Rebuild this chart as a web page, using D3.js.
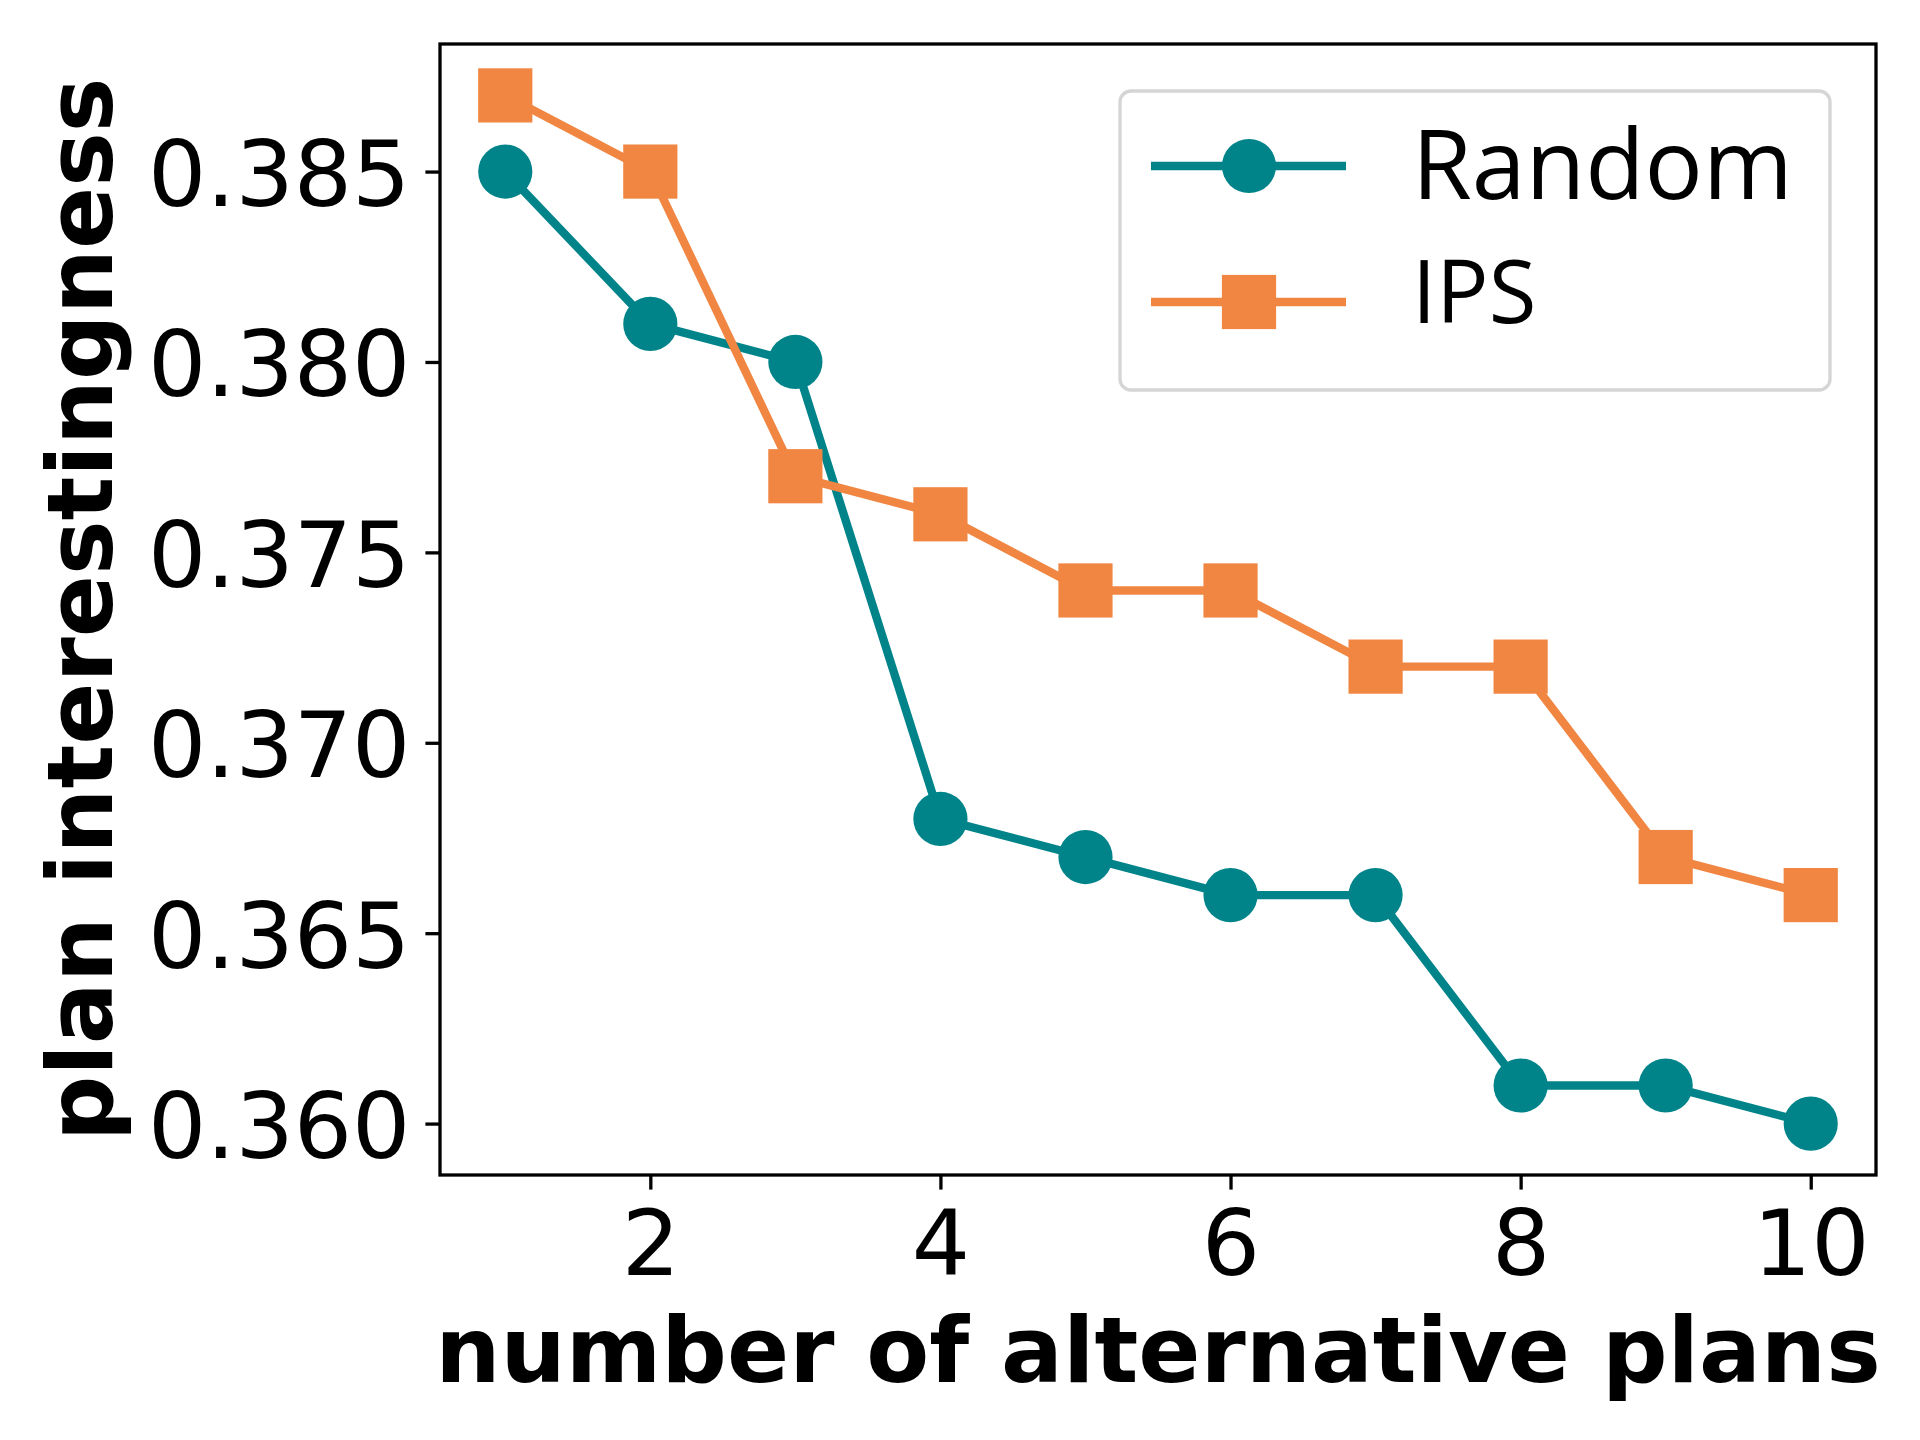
<!DOCTYPE html>
<html>
<head>
<meta charset="utf-8">
<script src="https://cdn.jsdelivr.net/npm/d3@7"></script>
<style>
  body { margin: 0; background: #fff; }
  text { font-family: "DejaVu Sans", sans-serif; }
</style>
</head>
<body>
<svg width="1920" height="1440"></svg>
<script>
// Data
let plans = [1, 2, 3, 4, 5, 6, 7, 8, 9, 10];
let randomVals = [0.385, 0.381, 0.380, 0.368, 0.367, 0.366, 0.366, 0.361, 0.361, 0.360];
let ipsVals = [0.387, 0.385, 0.377, 0.376, 0.374, 0.374, 0.372, 0.372, 0.367, 0.366];
let xTicks = [2, 4, 6, 8, 10];
let yTicks = [0.360, 0.365, 0.370, 0.375, 0.380, 0.385];

let series = [
    { name: "Random", values: randomVals, color: "#00848a", marker: "circle", labelSize: 97, labelBase: 199 },
    { name: "IPS", values: ipsVals, color: "#f18642", marker: "square", labelSize: 87, labelBase: 323 }
];

// The svg
let svg = d3.select("svg");
svg.append("rect").attr("width", 1920).attr("height", 1440).attr("fill", "#fff");

let plotLeft = 440, plotRight = 1876, plotTop = 44, plotBottom = 1175;
let fontSize = 91.7, lineW = 8.33, markerSize = 54.2, tickLen = 14.6, spineW = 3.3;

// Scales with matplotlib-like 5% margins
let xMin = d3.min(plans), xMax = d3.max(plans);
let allVals = randomVals.concat(ipsVals);
let yMin = d3.min(allVals), yMax = d3.max(allVals);
let xPad = (xMax - xMin) * 0.05, yPad = (yMax - yMin) * 0.05;

let x = d3.scaleLinear().domain([xMin - xPad, xMax + xPad]).range([plotLeft, plotRight]);
let y = d3.scaleLinear().domain([yMin - yPad, yMax + yPad]).range([plotBottom, plotTop]);

// Axes
let xAxis = svg.append("g")
    .attr("transform", "translate(0," + plotBottom + ")")
    .call(d3.axisBottom(x).tickValues(xTicks).tickSize(tickLen).tickSizeOuter(0).tickPadding(20));
let yAxis = svg.append("g")
    .attr("transform", "translate(" + plotLeft + ",0)")
    .call(d3.axisLeft(y).tickValues(yTicks).tickFormat(d3.format(".3f")).tickSize(tickLen).tickSizeOuter(0).tickPadding(15));

[xAxis, yAxis].forEach(function (g) {
    g.select(".domain").remove();
    g.selectAll(".tick line").attr("stroke", "#000").attr("stroke-width", spineW);
    g.selectAll(".tick text")
        .attr("fill", "#000")
        .style("font-size", fontSize + "px")
        .style("font-family", "'DejaVu Sans', sans-serif");
});
yAxis.selectAll(".tick text").attr("dy", "0.37em");

// Lines and markers
let line = d3.line()
    .x(function (d, i) { return x(plans[i]); })
    .y(function (d) { return y(d); });

series.forEach(function (s) {
    svg.append("path")
        .datum(s.values)
        .attr("fill", "none")
        .attr("stroke", s.color)
        .attr("stroke-width", lineW)
        .attr("stroke-linejoin", "round")
        .attr("d", line);

    let g = svg.append("g");
    if (s.marker === "circle") {
        g.selectAll("circle")
            .data(s.values)
            .enter().append("circle")
            .attr("cx", function (d, i) { return x(plans[i]); })
            .attr("cy", function (d) { return y(d); })
            .attr("r", markerSize / 2)
            .attr("fill", s.color);
    } else {
        g.selectAll("rect")
            .data(s.values)
            .enter().append("rect")
            .attr("x", function (d, i) { return x(plans[i]) - markerSize / 2; })
            .attr("y", function (d) { return y(d) - markerSize / 2; })
            .attr("width", markerSize)
            .attr("height", markerSize)
            .attr("fill", s.color);
    }
});

// Frame
svg.append("rect")
    .attr("x", plotLeft).attr("y", plotTop)
    .attr("width", plotRight - plotLeft).attr("height", plotBottom - plotTop)
    .attr("fill", "none")
    .attr("stroke", "#000")
    .attr("stroke-width", spineW);

// Legend
let legend = svg.append("g");
legend.append("rect")
    .attr("x", 1120).attr("y", 91)
    .attr("width", 710).attr("height", 299)
    .attr("rx", 11).attr("ry", 11)
    .attr("fill", "#fff").attr("fill-opacity", 0.8)
    .attr("stroke", "#d5d5d5").attr("stroke-width", 3.3);

series.forEach(function (s, i) {
    let ly = 166 + i * 136;
    legend.append("line")
        .attr("x1", 1151).attr("x2", 1346)
        .attr("y1", ly).attr("y2", ly)
        .attr("stroke", s.color).attr("stroke-width", lineW);
    if (s.marker === "circle") {
        legend.append("circle")
            .attr("cx", 1249).attr("cy", ly).attr("r", markerSize / 2)
            .attr("fill", s.color);
    } else {
        legend.append("rect")
            .attr("x", 1249 - markerSize / 2).attr("y", ly - markerSize / 2)
            .attr("width", markerSize).attr("height", markerSize)
            .attr("fill", s.color);
    }
    legend.append("text")
        .attr("x", 1412).attr("y", s.labelBase)
        .style("font-family", "'Open Sans', 'Noto Sans', sans-serif")
        .style("font-size", s.labelSize + "px")
        .text(s.name);
});

// Axis labels
svg.append("text")
    .attr("x", (plotLeft + plotRight) / 2)
    .attr("y", 1382)
    .attr("text-anchor", "middle")
    .style("font-size", fontSize + "px")
    .style("font-weight", "bold")
    .text("number of alternative plans");

svg.append("text")
    .attr("transform", "translate(112," + (plotTop + plotBottom) / 2 + ") rotate(-90)")
    .attr("text-anchor", "middle")
    .style("font-size", fontSize + "px")
    .style("font-weight", "bold")
    .text("plan interestingness");
</script>
</body>
</html>
